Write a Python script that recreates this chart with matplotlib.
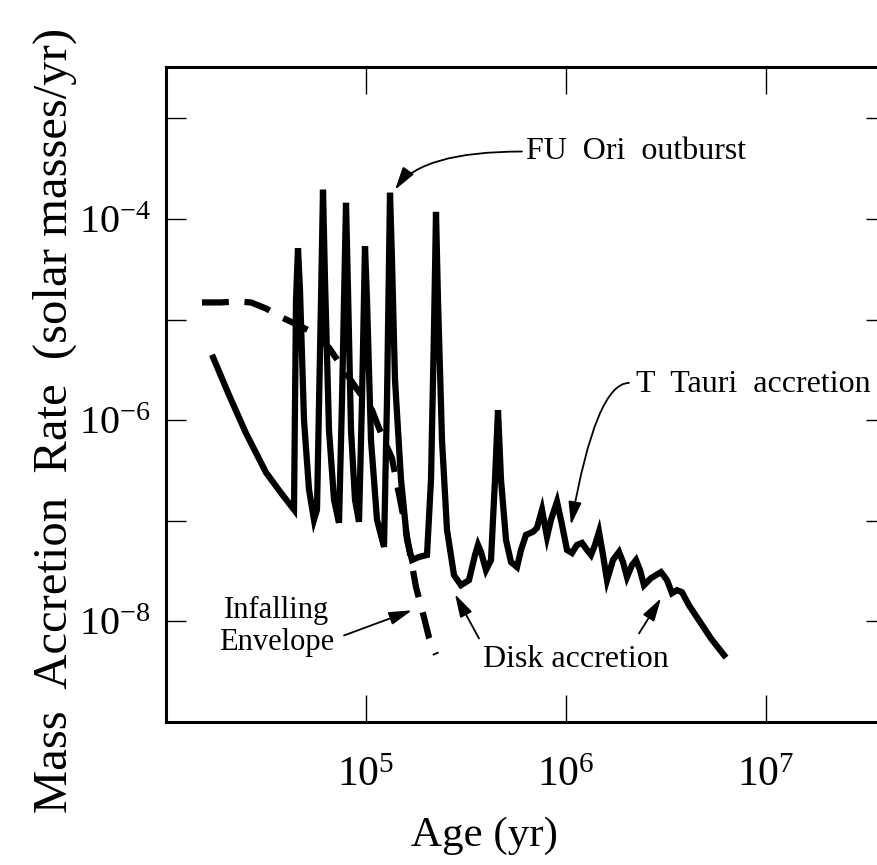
import matplotlib
matplotlib.use("Agg")
import matplotlib.pyplot as plt
import numpy as np

plt.rcParams['font.family'] = ['Liberation Serif', 'DejaVu Serif']
plt.rcParams['mathtext.fontset'] = 'custom'
plt.rcParams['mathtext.rm'] = 'Liberation Serif'
plt.rcParams['mathtext.it'] = 'Liberation Serif:italic'

# accretion history (log10 age [yr], log10 rate [Msun/yr])
log_age_disk = [4.23, 4.315, 4.40, 4.50, 4.57, 4.64, 4.65, 4.66, 4.67, 4.69, 4.715,
                4.74, 4.755, 4.775, 4.785, 4.795, 4.815, 4.84, 4.865, 4.88, 4.90,
                4.91, 4.925, 4.945, 4.965, 4.98, 4.995, 5.005, 5.025, 5.055, 5.09,
                5.105, 5.12, 5.13, 5.145, 5.175, 5.205, 5.23, 5.265, 5.305, 5.325,
                5.34, 5.35, 5.36, 5.38, 5.405, 5.44, 5.475, 5.515, 5.545, 5.56,
                5.575, 5.60, 5.625, 5.645, 5.66, 5.675, 5.70, 5.725, 5.755, 5.775,
                5.80, 5.835, 5.855, 5.88, 5.905, 5.925, 5.955, 5.98, 6.005, 6.03,
                6.055, 6.08, 6.105, 6.125, 6.145, 6.165, 6.185, 6.205, 6.235, 6.265,
                6.285, 6.305, 6.33, 6.35, 6.37, 6.39, 6.425, 6.475, 6.505, 6.53,
                6.555, 6.58, 6.615, 6.665, 6.725, 6.80]
log_rate_disk = [-5.35, -5.75, -6.13, -6.52, -6.71, -6.89, -4.81, -4.29, -4.71, -6.00, -6.69,
                 -6.99, -6.89, -4.81, -3.71, -4.61, -6.10, -6.79, -7.02, -5.80, -3.84,
                 -4.71, -6.10, -6.79, -7.01, -5.80, -4.27, -4.81, -6.20, -6.99, -7.26,
                 -5.80, -3.74, -4.41, -5.60, -6.59, -7.19, -7.39, -7.36, -7.34, -6.59,
                 -5.10, -3.93, -4.81, -6.20, -7.09, -7.54, -7.64, -7.59, -7.34, -7.24,
                 -7.31, -7.49, -7.39, -6.59, -5.90, -6.59, -7.19, -7.41, -7.46, -7.29,
                 -7.14, -7.11, -7.07, -6.89, -7.16, -6.99, -6.81, -7.04, -7.29, -7.32,
                 -7.24, -7.22, -7.29, -7.34, -7.24, -7.11, -7.34, -7.59, -7.39, -7.31,
                 -7.41, -7.56, -7.44, -7.39, -7.49, -7.64, -7.57, -7.51, -7.59, -7.72,
                 -7.69, -7.71, -7.84, -7.99, -8.17, -8.36]

# infalling envelope
log_age_env = [4.18, 4.275, 4.355, 4.425, 4.50, 4.58, 4.665, 4.715, 4.815, 4.88,
               4.94, 5.03, 5.065, 5.13, 5.19, 5.25, 5.29, 5.315, 5.35]
log_rate_env = [-4.83, -4.83, -4.82, -4.83, -4.89, -4.98, -5.06, -5.11, -5.28, -5.47,
                -5.65, -5.90, -6.08, -6.38, -6.99, -7.66, -7.96, -8.16, -8.33]

x_ticks = [1e5, 1e6, 1e7]
x_ticklabels = [r'$10^{5}$', r'$10^{6}$', r'$10^{7}$']
y_ticks = [1e-9, 1e-8, 1e-7, 1e-6, 1e-5, 1e-4, 1e-3]
y_ticklabels = ['', r'$10^{-8}$', '', r'$10^{-6}$', '', r'$10^{-4}$', '']

age_disk = 10 ** np.array(log_age_disk)
rate_disk = 10 ** np.array(log_rate_disk)
age_env = 10 ** np.array(log_age_env)
rate_env = 10 ** np.array(log_rate_env)

fig = plt.figure(figsize=(8.78, 8.65), dpi=100)
ax = fig.add_axes([166 / 878, 143 / 865, 720 / 878, 655 / 865])
ax.set_xscale('log')
ax.set_yscale('log')
ax.set_xlim(1e4, 10 ** 7.6)
ax.set_ylim(1e-9, 10 ** -2.49)

ax.plot(age_disk, rate_disk, color='black', lw=4.5,
        solid_joinstyle='miter', solid_capstyle='butt')
ax.plot(age_env, rate_env, color='black', lw=4.5, dashes=(4.3, 2.5),
        dash_capstyle='butt')

# axes styling
for sp in ax.spines.values():
    sp.set_linewidth(2.2)
ax.minorticks_off()
ax.set_xticks(x_ticks)
ax.set_xticklabels(x_ticklabels, fontsize=30)
ax.set_yticks(y_ticks)
ax.set_yticklabels(y_ticklabels, fontsize=29)
ax.tick_params(axis='x', which='major', direction='in', length=19.5, width=1,
               top=True, pad=25)
ax.tick_params(axis='y', which='major', direction='in', length=14.5, width=1,
               right=True, pad=11)

ax.set_xlabel('Age (yr)', fontsize=31)
ax.xaxis.set_label_coords(0.442, -0.145)
ax.set_ylabel('Mass  Accretion  Rate  (solar masses/yr)', fontsize=35)
ax.yaxis.set_label_coords(-0.124, 0.461)

arrow_kw = dict(arrowstyle='-|>,head_length=0.7,head_width=0.2',
                color='black', lw=1.3, mutation_scale=20, shrinkA=0, shrinkB=0)

# labelled features
ax.text(10 ** 5.80, 10 ** -3.33, 'FU  Ori  outburst', fontsize=23,
        va='center', ha='left')
ax.annotate('', xy=(10 ** 5.145, 10 ** -3.71), xytext=(10 ** 5.78, 10 ** -3.33),
            arrowprops=dict(connectionstyle='angle3,angleA=0,angleB=55', **arrow_kw))

ax.text(10 ** 6.35, 10 ** -5.65, 'T  Tauri  accretion', fontsize=23,
        va='center', ha='left')
ax.annotate('', xy=(10 ** 6.025, 10 ** -7.04), xytext=(10 ** 6.315, 10 ** -5.63),
            arrowprops=dict(connectionstyle='angle3,angleA=0,angleB=80', **arrow_kw))

ax.text(10 ** 4.555, 10 ** -8.05, 'Infalling\nEnvelope', fontsize=22,
        ha='center', va='center', linespacing=1.15)
ax.annotate('', xy=(10 ** 5.23, 10 ** -7.89), xytext=(10 ** 4.89, 10 ** -8.14),
            arrowprops=arrow_kw)

ax.text(10 ** 6.05, 10 ** -8.38, 'Disk accretion', fontsize=23,
        ha='center', va='center')
ax.annotate('', xy=(10 ** 5.445, 10 ** -7.73), xytext=(10 ** 5.565, 10 ** -8.17),
            arrowprops=arrow_kw)
ax.annotate('', xy=(10 ** 6.475, 10 ** -7.77), xytext=(10 ** 6.365, 10 ** -8.12),
            arrowprops=arrow_kw)

fig.savefig('out.png', dpi=100)
